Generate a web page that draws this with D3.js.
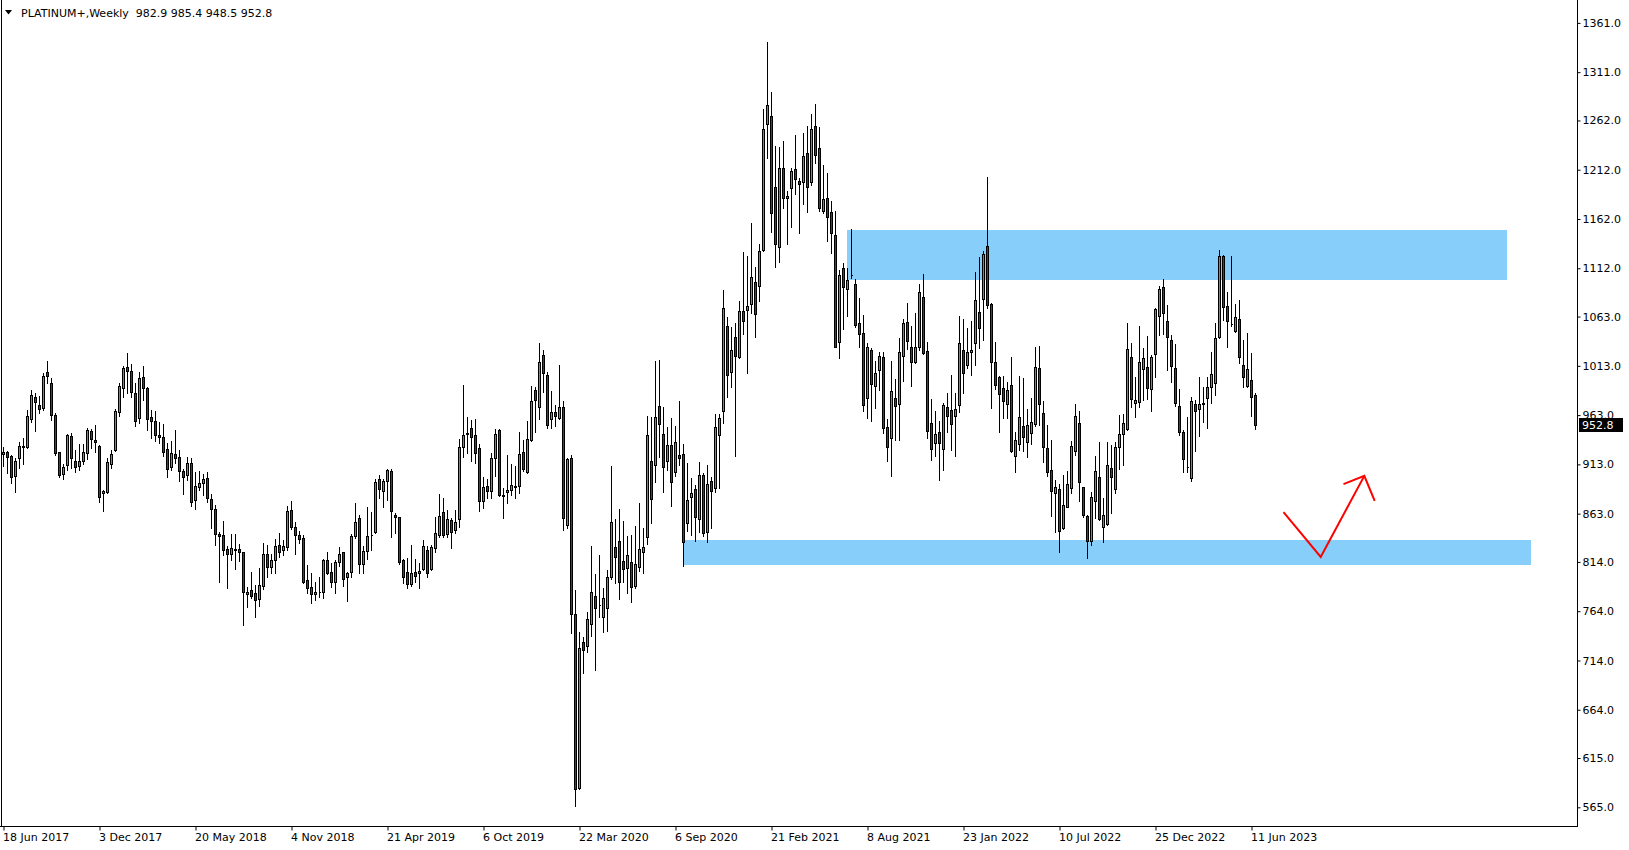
<!DOCTYPE html>
<html><head><meta charset="utf-8">
<script src="https://cdn.jsdelivr.net/npm/d3@7"></script>
<style>html,body{margin:0;padding:0;background:#fff;overflow:hidden}svg{display:block}</style>
</head><body>
<svg id="chart" width="1629" height="850"></svg>
<script>
const symbolTitle = "PLATINUM+,Weekly";
const firstWeek = "18 Jun 2017";
const openP = [
923.9,925.2,921.5,901.5,919.1,930.9,930.9,959.4,981.4,973.2,
970.5,1006.4,995.6,963.4,925.2,902.9,912.0,941.4,916.7,911.7,
916.1,924.2,946.8,937.7,931.6,883.6,885.3,913.4,927.2,966.5,
990.1,1011.5,1008.0,985.1,960.4,1001.4,990.2,960.8,957.4,942.8,
941.1,928.3,910.7,923.2,920.2,906.3,902.2,914.1,876.9,890.4,
893.8,898.9,877.5,867.4,842.4,841.0,826.8,821.7,826.8,826.8,
823.7,781.1,785.1,782.1,776.0,789.5,821.7,809.2,815.9,830.8,
825.7,829.4,866.7,849.1,841.3,838.2,795.3,788.2,781.1,783.1,
783.8,815.6,803.4,793.2,814.2,823.7,798.3,803.4,840.6,858.2,
811.5,825.4,841.0,844.0,897.8,886.3,895.8,906.2,861.3,859.2,
815.6,804.1,791.2,803.4,802.4,806.4,825.7,806.4,827.8,841.3,
864.3,842.3,856.2,846.4,857.5,930.3,944.5,949.6,942.5,929.6,
876.2,891.1,886.3,919.1,947.9,881.3,884.7,886.7,890.4,891.4,
925.2,905.6,937.8,988.5,971.6,1024.0,1003.7,958.7,965.8,960.4,
971.6,851.4,919.1,760.8,584.2,732.4,728.6,750.6,779.7,770.6,
758.4,767.6,799.0,828.8,835.2,814.9,808.1,813.6,789.9,808.5,
823.7,838.9,916.7,912.0,971.9,943.5,916.7,932.3,905.6,922.2,
923.2,853.1,879.5,887.9,857.2,902.2,844.0,896.1,888.6,942.7,
967.4,1053.4,1007.0,1041.9,1022.2,1068.6,1069.3,1075.4,1097.7,1094.0,
1130.5,1258.0,1266.5,1194.1,1133.9,1213.4,1183.0,1193.8,1212.4,1200.5,
1199.9,1228.6,1199.9,1256.4,1233.7,1170.4,1183.0,1169.4,1145.7,1037.5,
1111.9,1090.6,1105.1,1095.7,1056.8,1046.6,980.0,1029.0,992.5,1008.7,
1022.3,950.5,939.4,980.6,973.9,1023.3,1057.8,1032.4,1017.2,1032.4,
1082.5,1028.3,954.6,935.0,946.1,928.2,971.5,968.1,962.0,973.2,
1029.0,1013.5,1027.3,1035.8,1067.2,1080.4,1134.6,1075.7,1016.5,1001.3,
990.2,973.9,993.6,921.5,933.3,951.9,935.4,945.2,953.6,1010.5,
964.8,929.3,907.0,884.3,888.0,848.8,870.1,888.7,926.9,954.7,
889.7,860.6,835.6,876.2,899.8,849.8,852.1,909.0,887.7,931.0,
943.8,948.5,1021.6,975.6,976.6,1009.4,1011.5,989.1,1024.7,1063.6,
1092.7,1058.5,1039.2,1010.5,972.2,945.5,910.7,898.8,973.9,968.8,
974.9,980.0,991.2,995.2,1041.9,1124.5,1073.7,1055.4,1048.7,1060.2,
1013.5,992.9,998.6,982.9];
const highP = [
930.3,926.9,922.5,919.1,936.0,940.1,968.2,988.5,985.8,982.4,
1005.4,1018.2,1000.6,965.5,925.9,913.0,943.5,944.5,927.6,933.3,
933.3,950.2,948.5,952.9,932.6,887.0,919.1,927.6,968.8,995.9,
1012.8,1026.3,1015.0,995.3,1007.1,1013.0,991.2,968.2,967.2,955.7,
953.7,934.4,936.7,947.9,927.6,908.0,920.2,919.1,905.6,906.3,
902.9,904.9,883.0,871.8,844.4,855.6,830.2,842.0,842.0,831.9,
824.4,788.9,803.4,790.5,807.5,832.8,831.1,822.0,836.9,843.0,
836.2,870.7,875.8,854.1,845.7,841.6,810.8,802.4,793.9,798.3,
816.6,823.7,813.2,815.9,829.4,824.4,804.1,842.0,873.4,861.6,
830.1,870.0,865.0,898.1,902.2,898.1,907.9,907.9,863.3,859.9,
816.6,818.3,831.1,816.6,812.5,836.2,830.1,831.1,859.9,882.6,
878.5,866.7,858.9,866.7,938.4,993.6,960.8,958.1,958.7,933.7,
900.5,898.2,924.2,948.6,948.6,888.7,922.5,913.4,911.4,946.2,
937.8,957.4,992.6,991.9,1035.9,1029.1,1007.1,987.5,973.3,1013.9,
977.3,919.1,922.5,785.5,742.5,738.1,762.8,830.1,801.7,821.0,
787.2,805.8,911.3,857.5,867.7,855.5,840.3,841.3,850.4,873.4,
848.1,962.1,960.7,1017.9,1018.9,971.5,950.6,959.7,951.9,977.3,
933.3,914.0,898.8,892.0,915.7,903.9,912.3,900.5,964.1,963.7,
1089.9,1062.8,1052.0,1056.7,1079.1,1128.1,1124.8,1157.6,1112.9,1136.6,
1273.6,1341.9,1291.2,1236.1,1234.7,1241.1,1190.4,1213.4,1247.2,1203.9,
1249.6,1256.4,1268.5,1278.7,1255.0,1216.8,1208.3,1180.2,1170.4,1110.2,
1117.7,1111.9,1151.5,1100.8,1081.5,1064.5,1035.8,1030.7,1017.9,1027.3,
1026.7,958.7,1018.2,999.2,1040.9,1060.5,1076.4,1053.7,1066.9,1096.0,
1105.8,1037.5,978.9,967.4,957.3,974.9,985.7,1003.6,985.7,1063.5,
1060.1,1051.0,1058.4,1108.5,1123.1,1129.5,1204.9,1076.4,1036.8,1002.6,
1002.7,996.3,1021.6,946.2,1002.7,1001.0,969.2,980.7,1031.8,1033.1,
977.3,953.0,937.7,897.2,892.7,902.2,906.3,936.7,974.3,967.2,
890.4,861.6,885.3,921.5,936.0,878.5,936.0,932.7,936.0,963.1,
964.1,1056.1,1035.8,1002.0,1053.4,1030.7,1043.3,1024.0,1071.4,1094.0,
1100.8,1074.7,1044.3,1034.8,989.5,947.9,961.4,981.7,978.3,1002.0,
991.8,1002.0,1026.7,1056.1,1130.6,1125.5,1088.3,1124.5,1075.4,1079.8,
1039.2,1046.0,1025.7,985.4];
const lowP = [
911.3,904.6,894.4,885.3,909.0,913.4,929.9,956.3,947.2,964.8,
968.2,995.2,958.0,922.5,900.5,898.5,907.3,909.6,905.6,907.3,
913.4,918.1,929.3,925.9,875.1,866.0,884.3,909.0,926.6,962.1,
981.0,985.1,981.7,952.3,954.7,978.4,947.9,939.5,936.7,934.4,
921.5,900.5,907.3,914.8,896.5,883.0,897.2,870.8,867.4,887.0,
881.9,875.2,848.1,831.2,794.0,821.0,787.9,816.0,807.2,815.3,
750.0,767.9,777.7,758.4,769.6,786.1,799.0,802.4,803.1,819.3,
821.0,826.1,847.1,822.0,833.5,792.9,782.1,771.9,775.3,778.7,
777.0,801.7,788.9,782.8,810.2,789.9,774.3,799.0,838.6,803.1,
803.1,816.9,826.1,843.0,878.5,870.0,876.8,838.9,843.0,811.9,
792.9,787.2,789.5,793.9,787.2,805.8,799.0,805.8,824.4,838.9,
839.6,839.6,827.8,843.0,849.7,920.2,924.2,916.4,914.1,866.0,
868.4,878.6,878.6,901.5,881.3,858.3,873.5,881.9,878.6,883.6,
906.6,904.6,936.7,946.2,958.7,986.8,950.3,949.6,952.3,958.7,
846.4,848.1,742.2,566.3,583.2,701.6,722.9,739.1,704.3,758.4,
743.2,744.2,796.3,792.2,776.3,793.9,782.1,773.6,787.2,805.1,
803.1,831.8,853.1,895.4,920.8,884.6,907.3,871.1,901.5,912.3,
810.2,845.7,841.3,835.5,844.6,840.3,834.5,848.1,884.6,888.9,
954.6,981.6,991.8,921.8,1020.6,1044.9,1005.3,1066.9,1042.5,1079.1,
1129.8,1224.2,1149.1,1113.6,1118.7,1172.8,1136.6,1154.2,1187.3,1147.4,
1177.2,1169.4,1196.5,1218.5,1170.4,1167.7,1139.6,1127.8,1031.7,1020.6,
1050.0,1063.5,1101.8,1052.7,1032.4,967.5,959.7,957.3,970.5,988.4,
944.4,916.4,901.5,937.7,937.7,997.9,1030.0,992.5,1015.5,1029.0,
1025.0,939.4,917.4,921.4,897.1,907.2,946.1,927.5,921.4,966.4,
985.0,1010.4,1003.6,1013.8,1030.7,1039.2,1072.0,970.5,989.4,946.1,
959.7,959.7,925.9,904.9,927.6,926.6,920.8,933.7,952.3,953.0,
915.7,901.2,860.6,844.7,824.4,847.4,869.4,884.3,922.5,875.8,
859.9,817.6,831.2,858.2,856.5,834.5,851.5,863.3,883.6,908.0,
912.4,947.9,971.6,961.4,971.6,978.3,979.0,967.5,1001.3,1044.3,
1045.3,1008.8,996.9,972.2,942.8,904.9,905.6,896.1,926.9,942.1,
956.3,950.2,975.6,983.4,1040.9,1059.5,1031.8,1053.4,1047.7,1015.5,
991.2,991.8,962.1,948.5];
const closeP = [
925.2,920.1,899.8,916.7,931.3,931.6,961.7,983.0,975.9,969.5,
1002.7,1003.0,963.4,924.2,902.2,910.0,942.4,919.1,910.6,916.1,
925.5,947.9,938.4,935.7,880.2,886.3,915.0,923.2,967.1,992.5,
1010.4,1008.1,986.1,957.4,1000.3,990.2,958.7,957.4,942.5,941.1,
925.9,908.7,924.2,919.8,906.6,900.5,914.1,875.2,891.1,893.8,
897.8,878.6,867.4,842.0,840.7,825.8,822.4,827.8,826.5,823.7,
783.1,783.4,779.7,775.0,790.2,821.7,809.2,815.9,830.5,824.4,
830.1,865.6,849.1,841.3,836.9,793.9,787.2,781.1,783.1,783.3,
815.6,803.1,793.9,813.6,821.7,796.3,802.4,840.3,854.1,811.5,
825.4,840.6,841.3,894.8,887.6,896.1,906.9,866.0,859.9,814.2,
799.0,791.9,802.4,800.0,805.1,830.1,803.1,829.4,843.0,860.6,
841.3,857.2,844.0,854.1,930.3,942.5,944.2,941.1,924.2,876.2,
889.7,886.3,919.1,943.5,881.9,881.6,887.0,891.8,890.7,923.2,
908.0,938.4,977.3,978.4,1016.6,1005.4,953.0,965.8,962.5,971.6,
858.3,918.4,760.8,583.2,726.3,724.6,755.7,783.1,766.9,770.3,
777.0,798.3,854.1,819.3,793.9,806.4,820.7,788.2,811.5,826.8,
828.8,942.4,877.5,960.7,953.9,910.6,932.3,895.4,935.3,919.1,
833.9,876.5,884.2,859.2,902.2,843.0,892.7,886.3,950.5,959.7,
1071.3,1003.6,1029.0,1023.3,1068.6,1058.8,1074.0,1102.8,1065.2,1129.8,
1253.0,1277.3,1167.7,1136.3,1213.4,1183.0,1185.3,1211.0,1202.2,1197.2,
1225.9,1194.8,1253.0,1226.9,1172.8,1181.9,1164.3,1148.1,1032.4,1105.1,
1092.6,1100.1,1104.8,1054.4,1044.9,973.2,1032.4,994.2,1005.3,1023.3,
950.2,930.2,987.7,972.5,1026.7,1056.1,1038.5,1017.2,1032.4,1087.5,
1026.3,947.2,928.2,943.4,934.3,973.2,962.0,953.9,968.8,1035.8,
1005.3,1027.3,1028.7,1079.8,1051.0,1126.1,1074.7,1016.5,993.5,984.4,
977.3,988.1,926.9,937.4,960.7,941.1,953.0,955.7,1011.5,973.9,
931.0,905.6,886.3,889.7,845.7,871.4,892.7,931.6,962.1,895.5,
861.6,835.2,879.5,906.3,857.2,861.3,912.4,900.5,930.3,943.8,
954.7,1029.7,979.0,978.3,1017.2,1020.6,990.8,1022.3,1070.3,1090.6,
1066.9,1041.9,1012.8,974.9,946.2,918.1,910.7,977.6,967.5,973.9,
974.6,991.2,1004.4,1040.9,1124.5,1073.0,1058.8,1055.1,1062.9,1022.3,
1002.0,1009.4,981.7,952.8];
const timeLabels = ["18 Jun 2017","3 Dec 2017","20 May 2018","4 Nov 2018","21 Apr 2019","6 Oct 2019","22 Mar 2020","6 Sep 2020","21 Feb 2021","8 Aug 2021","23 Jan 2022","10 Jul 2022","25 Dec 2022","11 Jun 2023"];
const priceTicks = [1361.0,1311.0,1262.0,1212.0,1162.0,1112.0,1063.0,1013.0,963.0,913.0,863.0,814.0,764.0,714.0,664.0,615.0,565.0];
// zones: week index from / to, price low / high
const zoneFrom = [211, 170];
const zoneTo = [376, 382];
const zoneLow = [1100.1, 810.9];
const zoneHigh = [1150.8, 836.3];
// arrow annotation: [week index, price]
const arrowLine = [[320.0,864.5],[329.3,819.1],[340.2,901.3]];
const arrowHead = [[335.0,892.9],[340.2,901.3],[342.8,876.0]];

const n = closeP.length;
const parse = d3.utcParse("%d %b %Y");
const t0 = parse(firstWeek);
const weekMs = 7*24*3600*1000;
const tickIdx = timeLabels.map(s => Math.round((parse(s) - t0)/weekMs));

const svg = d3.select("#chart");
const FONT = "'DejaVu Sans', Verdana, sans-serif";
const plotR = 1577, plotB = 826;

const x = d3.scaleLinear().domain([0, 313]).range([3.5, 1255.5]);
const y = d3.scaleLinear().domain([565, 1361]).range([807.3, 22.9]);

svg.append("rect").attr("width",1629).attr("height",850).attr("fill","#fff");
svg.append("clipPath").attr("id","plot").append("rect").attr("x",0).attr("y",0).attr("width",plotR).attr("height",plotB);
const g = svg.append("g").attr("clip-path","url(#plot)");

// zones
g.selectAll("rect.zone").data(zoneFrom.map((f,i)=>({f, t:zoneTo[i], lo:zoneLow[i], hi:zoneHigh[i]})))
 .enter().append("rect").attr("class","zone")
 .attr("x", d=>Math.round(x(d.f)-0.5)).attr("width", d=>Math.round(x(d.t))-Math.round(x(d.f)))
 .attr("y", d=>Math.round(y(d.hi))).attr("height", d=>Math.round(y(d.lo))-Math.round(y(d.hi)))
 .attr("fill","#87CEFA");

// candles
const bars = d3.range(n).map(i=>({i,o:openP[i],h:highP[i],l:lowP[i],c:closeP[i]}));
const cg = g.append("g");
bars.forEach(d=>{
  const xc = Math.round(x(d.i)-0.5)+0.5;
  cg.append("line").attr("x1",xc).attr("x2",xc)
    .attr("y1",Math.round(y(d.h))).attr("y2",Math.round(y(d.l))+1)
    .attr("stroke","#000").attr("stroke-width",1);
  const top = Math.round(y(Math.max(d.o,d.c)))+0.5;
  const bot = Math.round(y(Math.min(d.o,d.c)))+0.5;
  cg.append("path").attr("d",`M${xc-1},${top}H${xc+1}V${bot}H${xc-1}Z`)
    .attr("fill", d.c>=d.o ? "#00DD00" : "#E00000")
    .attr("stroke","#000").attr("stroke-width",1).attr("shape-rendering","crispEdges");
});

// arrow
const lineGen = d3.line().x(p=>x(p[0])).y(p=>y(p[1]));
g.append("path").attr("d",lineGen(arrowLine)).attr("fill","none").attr("stroke","#FF0000").attr("stroke-width",2);
g.append("path").attr("d",lineGen(arrowHead)).attr("fill","none").attr("stroke","#FF0000").attr("stroke-width",2);

// frame
svg.append("line").attr("x1",1.5).attr("x2",1.5).attr("y1",0).attr("y2",plotB).attr("stroke","#000");
svg.append("line").attr("x1",plotR+0.5).attr("x2",plotR+0.5).attr("y1",0).attr("y2",plotB+1).attr("stroke","#000");
svg.append("line").attr("x1",0).attr("x2",plotR+1).attr("y1",plotB+0.5).attr("y2",plotB+0.5).attr("stroke","#000");

// price axis
const ya = svg.append("g").attr("transform",`translate(${plotR+0.5},0)`)
  .call(d3.axisRight(y).tickValues(priceTicks).tickFormat(d3.format(".1f")).tickSize(3).tickPadding(2).tickSizeOuter(0));
ya.select(".domain").remove();
ya.selectAll("text").attr("font-family",FONT).attr("font-size","11px").attr("fill","#000");
ya.selectAll("line").attr("stroke","#000");

// time axis
const xa = svg.append("g").attr("transform",`translate(0,${plotB+0.5})`)
  .call(d3.axisBottom(x).tickValues(tickIdx).tickFormat((d,i)=>timeLabels[i]).tickSize(4).tickPadding(3).tickSizeOuter(0));
xa.select(".domain").remove();
xa.selectAll("text").attr("font-family",FONT).attr("font-size","11px").attr("fill","#000").attr("text-anchor","start").attr("x",-1);
xa.selectAll("line").attr("stroke","#000");

// last price box
const last = closeP[n-1];
svg.append("rect").attr("x",1579).attr("y",Math.round(y(last))-7).attr("width",44).attr("height",14).attr("fill","#000");
svg.append("text").attr("x",1582).attr("y",y(last)).attr("dy","0.36em").attr("font-family",FONT).attr("font-size","11px").attr("fill","#fff").text(last.toFixed(1));

// header
svg.append("path").attr("d","M5,10H12L8.5,14.5Z").attr("fill","#000");
svg.append("text").attr("x",21).attr("y",16.5).attr("font-family",FONT).attr("font-size","11px").attr("fill","#000")
  .style("white-space","pre")
  .text(`${symbolTitle}  ${openP[n-1].toFixed(1)} ${highP[n-1].toFixed(1)} ${lowP[n-1].toFixed(1)} ${closeP[n-1].toFixed(1)}`);
</script>
</body></html>
